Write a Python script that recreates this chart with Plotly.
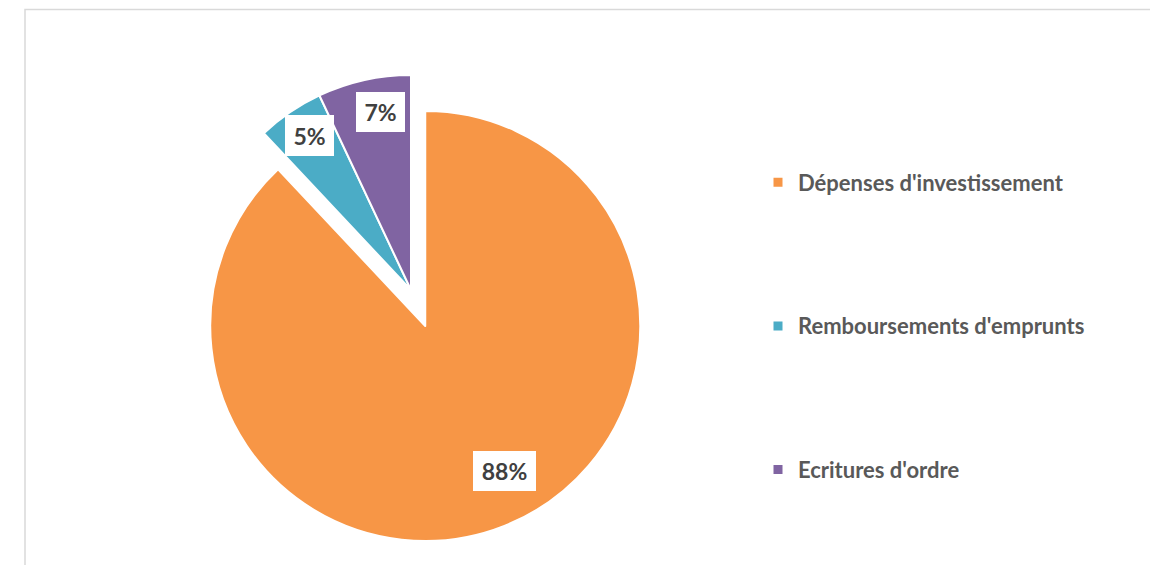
import math
import plotly.graph_objects as go

# ---- data ----
categories = ["Dépenses d'investissement", "Remboursements d'emprunts", "Ecritures d'ordre"]
values = [88, 5, 7]
colors = ["#F79646", "#4BACC6", "#8064A2"]
pulls = [0.18, 0, 0]

# ---- layout constants (figure pixels) ----
W, H = 1158, 565
CX, CY = 403, 282     # unpulled pie centre
R = 215               # pie radius
LABEL_RADIUS = [0.77, 0.86, 0.84]
LABEL_TURN = [-7, 1, 3]   # degrees
LABEL_BOX = [(63, 40), (49, 41), (49, 40)]

half = R * (1 + max(pulls))
dom_x = [(CX - half) / W, (CX + half) / W]
dom_y = [1 - (CY + half) / H, 1 - (CY - half) / H]

fig = go.Figure()
fig.add_trace(go.Pie(
    labels=categories, values=values, sort=False, direction="clockwise", rotation=0,
    pull=pulls, marker=dict(colors=colors, line=dict(color="white", width=2)),
    textinfo="none", hoverinfo="label+percent", showlegend=False,
    domain=dict(x=dom_x, y=dom_y),
))

# legend entries
for i, (c, col) in enumerate(zip(categories, colors)):
    fig.add_trace(go.Scatter(x=[None], y=[None], mode="markers", name=c,
                             marker=dict(symbol="square", size=9, color=col),
                             legendgroup=f"g{i}", showlegend=True))

# percentage labels computed from the data
total = sum(values)
cum = 0
for i, v in enumerate(values):
    mid = (cum + v / 2) / total * 2 * math.pi
    cum += v
    ox = CX + pulls[i] * R * math.sin(mid)
    oy = CY - pulls[i] * R * math.cos(mid)
    a = mid + math.radians(LABEL_TURN[i])
    lx = ox + LABEL_RADIUS[i] * R * math.sin(a)
    ly = oy - LABEL_RADIUS[i] * R * math.cos(a)
    pct = round(v / total * 100)
    bw, bh = LABEL_BOX[i]
    fig.add_annotation(x=lx / W, y=1 - ly / H, xref="paper", yref="paper",
                       xanchor="center", yanchor="middle",
                       text=f"<b>{pct}%</b>", showarrow=False,
                       bgcolor="white", borderpad=0, borderwidth=0,
                       width=bw, height=bh, align="center", valign="middle",
                       font=dict(family="Lato", size=23, color="#404040"))

fig.add_shape(type="rect", xref="paper", yref="paper",
              x0=17 / W, x1=1145 / W, y0=-0.05, y1=1 - 1.5 / H,
              line=dict(color="#D9D9D9", width=1.5), fillcolor="rgba(0,0,0,0)", layer="below")

fig.update_layout(
    width=W, height=H, margin=dict(l=0, r=0, t=0, b=0),
    paper_bgcolor="white", plot_bgcolor="white",
    xaxis=dict(visible=False), yaxis=dict(visible=False),
    legend=dict(x=750 / W, y=1 - 318 / H, xanchor="left", yanchor="middle",
                tracegroupgap=112, itemsizing="trace",
                font=dict(family="Lato", size=22, color="#595959", weight="bold"),
                bgcolor="rgba(0,0,0,0)"),
)

fig.write_html("out.html")
